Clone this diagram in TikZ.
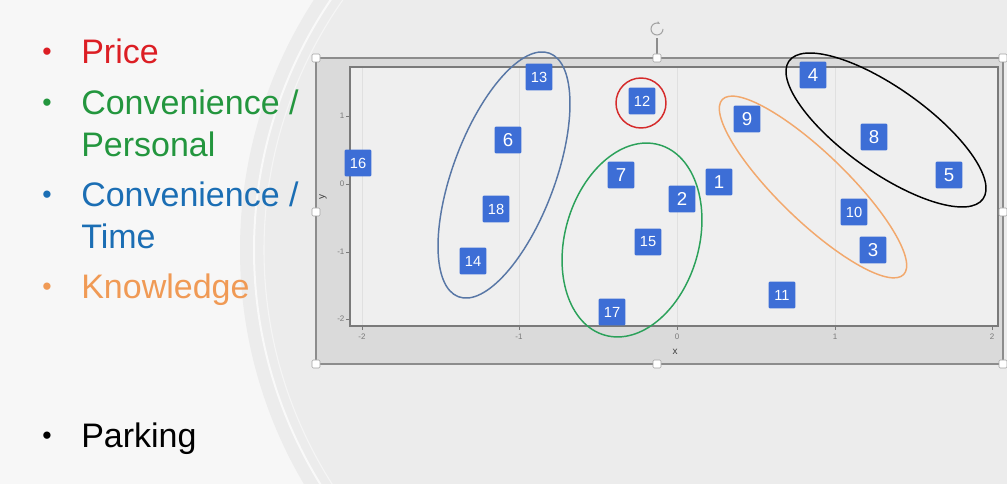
\documentclass[tikz,border=0pt]{standalone}
\usepackage{fontspec}
\setmainfont{Liberation Sans}
\usetikzlibrary{arrows.meta}

\definecolor{pricered}{HTML}{DC1E24}
\definecolor{convgreen}{HTML}{23963E}
\definecolor{convblue}{HTML}{1B6EB4}
\definecolor{knoworange}{HTML}{F09A55}
\definecolor{ptblue}{HTML}{3D6ED6}
\definecolor{bgwhite}{HTML}{F7F7F7}
\definecolor{bggray}{HTML}{ECECEC}
\definecolor{panelgray}{HTML}{DADADA}
\definecolor{plotbg}{HTML}{EFEFEF}
\definecolor{framegray}{HTML}{8C8C8C}
\definecolor{tickgray}{HTML}{7A7A7A}
\definecolor{ellblue}{HTML}{5877A6}
\definecolor{ellred}{HTML}{D52A2A}
\definecolor{ellgreen}{HTML}{2BA15A}
\definecolor{ellorange}{HTML}{F2A86C}

\tikzset{
  ptbox/.style={fill=ptblue, text=white, rounded corners=0.8pt, minimum size=20pt,
    inner sep=0pt, font=\fontsize{14}{14}\selectfont},
  ptsmall/.style={ptbox, font=\fontsize{11}{11}\selectfont},
  bullet/.style={anchor=base, inner sep=0pt, font=\fontsize{20}{20}\selectfont},
  entry/.style={anchor=base west, inner sep=0pt, font=\fontsize{25.5}{25.5}\selectfont},
  handle/.style={draw=framegray!80, fill=white, rounded corners=1pt, minimum size=6pt, inner sep=0pt},
  ticklab/.style={font=\fontsize{6}{6}\selectfont, text=tickgray, inner sep=1pt},
  ring/.style={line width=1.1pt}
}

\begin{document}
\begin{tikzpicture}[x=0.75pt, y=-0.75pt]

  \useasboundingbox (0,0) rectangle (1007,484);

  % slide background
  \begin{scope}
    \clip (0,0) rectangle (1007,484);
    \fill[bgwhite] (0,0) rectangle (1007,484);
    \fill[bggray] (700,250) circle (460);
    \draw[white, opacity=0.7, line width=1.5pt] (700,250) circle (446);
    \draw[white, opacity=0.5, line width=0.8pt] (700,250) circle (436);
  \end{scope}

  % bullet list
  \node[bullet, text=pricered] (b1) at (47,61) {•};
  \node[entry, text=pricered] (t1) at (81,64) {Price};
  \node[bullet, text=convgreen] (b2) at (47,112) {•};
  \node[entry, text=convgreen] (t2) at (81,115) {Convenience /};
  \node[entry, text=convgreen] (t3) at (81,157) {Personal};
  \node[bullet, text=convblue] (b3) at (47,204) {•};
  \node[entry, text=convblue] (t4) at (81,207) {Convenience /};
  \node[entry, text=convblue] (t5) at (81,249) {Time};
  \node[bullet, text=knoworange] (b4) at (47,296) {•};
  \node[entry, text=knoworange] (t6) at (81,299) {Knowledge};
  \node[bullet, text=black] (b5) at (47,445) {•};
  \node[entry, text=black] (t7) at (81,448) {Parking};

  % chart panel and plot area
  \fill[panelgray] (316,58) rectangle (1003,364);
  \fill[plotbg] (350,67) rectangle (998,326);
  %grid
  \draw[black!12, line width=0.4pt] (362,67) -- (362,326) (519,67) -- (519,326)
        (677,67) -- (677,326) (835,67) -- (835,326);
  \draw[tickgray, line width=0.8pt] (350,67) rectangle (998,326);

  % horizontal axis
  \draw[tickgray] (362,326) -- (362,330) (519,326) -- (519,330) (677,326) -- (677,330)
        (835,326) -- (835,330) (992,326) -- (992,330);
  \node[ticklab] (xl1) at (362,337) {-2};
  \node[ticklab] (xl2) at (519,337) {-1};
  \node[ticklab] (xl3) at (677,337) {0};
  \node[ticklab] (xl4) at (835,337) {1};
  \node[ticklab] (xl5) at (992,337) {2};
  \node[font=\fontsize{7.5}{7.5}\selectfont, text=black!75] (xt) at (675,352) {x};

  % vertical axis
  \draw[tickgray] (346,116) -- (350,116) (346,184) -- (350,184) (346,252) -- (350,252)
        (346,319) -- (350,319);
  \node[ticklab, anchor=east] (yl1) at (346,116) {1};
  \node[ticklab, anchor=east] (yl2) at (346,184) {0};
  \node[ticklab, anchor=east] (yl3) at (346,252) {-1};
  \node[ticklab, anchor=east] (yl4) at (346,319) {-2};
  \node[font=\fontsize{7.5}{7.5}\selectfont, text=black!75, rotate=90] (yt) at (323,197) {y};

  % points
  \node[ptsmall] (p13) at (539,77) {13};
  \node[ptsmall] (p12) at (642,101) {12};
  \node[ptbox] (p6) at (508,140) {6};
  \node[ptsmall] (p16) at (358,163) {16};
  \node[ptbox] (p7) at (621,175) {7};
  \node[ptsmall] (p18) at (496,209) {18};
  \node[ptsmall] (p14) at (473,261) {14};
  \node[ptsmall] (p17) at (612,312) {17};
  \node[ptsmall] (p15) at (648,242) {15};
  \node[ptbox] (p2) at (682,199) {2};
  \node[ptbox] (p1) at (719,182) {1};
  \node[ptbox] (p9) at (747,119) {9};
  \node[ptbox] (p4) at (813,75) {4};
  \node[ptbox] (p8) at (874,137) {8};
  \node[ptbox] (p5) at (949,175) {5};
  \node[ptsmall] (p10) at (854,212) {10};
  \node[ptbox] (p3) at (873,250) {3};
  \node[ptsmall] (p11) at (782,295) {11};

  % selection frame
  \draw[framegray, line width=1.1pt] (316,58) rectangle (1003,364);
  \draw[framegray, line width=0.8pt] (657,58) -- (657,38);
  \draw[framegray!80, line width=0.8pt, -{Stealth[length=2.5pt]}]
        (663,29) arc[start angle=0, end angle=300, radius=6];
  \node[handle] (h1) at (316,58) {};
  \node[handle] (h2) at (657,58) {};
  \node[handle] (h3) at (1003,58) {};
  \node[handle] (h4) at (316,212) {};
  \node[handle] (h5) at (1003,212) {};
  \node[handle] (h6) at (316,364) {};
  \node[handle] (h7) at (657,364) {};
  \node[handle] (h8) at (1003,364) {};

  % clusters
  \draw[ring, ellblue, rotate around={69.5:(504,175)}] (504,175) ellipse (130 and 51);
  \draw[ring, ellred] (641,103) circle (25);
  \draw[ring, ellgreen, rotate around={74:(632,240)}] (632,240) ellipse (99 and 67);
  \draw[ring, ellorange, rotate around={-44:(813,187)}] (813,187) ellipse (126 and 34);
  \draw[ring, black, rotate around={-35.4:(886,130)}] (886,130) ellipse (119 and 42);

\end{tikzpicture}
\end{document}
